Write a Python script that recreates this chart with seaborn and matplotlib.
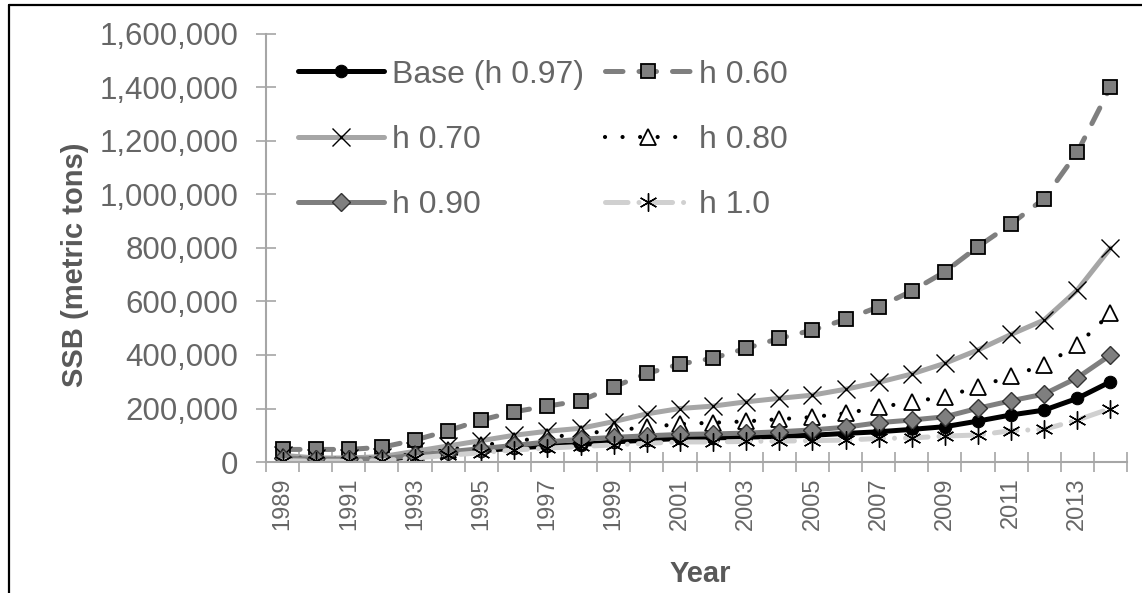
import matplotlib
matplotlib.use("Agg")
import matplotlib.pyplot as plt
from matplotlib.lines import Line2D
from matplotlib.ticker import FuncFormatter, MultipleLocator, FixedLocator
from matplotlib import font_manager
import seaborn as sns

# Spawning stock biomass (metric tons) under alternative steepness values
years = list(range(1989, 2015))
year_labels = [str(y) for y in range(1989, 2014, 2)]

base_h097 = [12000, 8000, 8000, 10000, 20000, 32000, 42000, 52000, 60000, 65000,
             75000, 82000, 88000, 90000, 93000, 96000, 100000, 107000, 113000, 122000,
             132000, 153000, 176000, 194000, 238000, 300000]
h060 = [47000, 47000, 47000, 55000, 82000, 117000, 157000, 188000, 209000, 229000,
        281000, 331000, 366000, 388000, 425000, 462000, 493000, 533000, 580000, 639000,
        711000, 805000, 890000, 985000, 1158000, 1402000]
h070 = [25000, 15000, 15000, 20000, 40000, 60000, 80000, 100000, 115000, 126000,
        151000, 180000, 200000, 209000, 225000, 238000, 250000, 272000, 298000, 329000,
        369000, 419000, 477000, 531000, 643000, 800000]
h080 = [20000, 12000, 12000, 15000, 30000, 45000, 62000, 78000, 92000, 105000,
        118000, 130000, 142000, 147000, 152000, 160000, 168000, 182000, 204000, 225000,
        244000, 281000, 321000, 363000, 437000, 556000]
h090 = [15000, 10000, 10000, 12000, 25000, 38000, 50000, 62000, 75000, 85000,
        92000, 98000, 103000, 105000, 108000, 113000, 120000, 130000, 147000, 157000,
        169000, 201000, 229000, 254000, 315000, 400000]
h100 = [5000, 3000, 3000, 5000, 15000, 25000, 35000, 45000, 52000, 58000,
        64000, 70000, 75000, 75000, 77000, 78000, 80000, 82000, 88000, 90000,
        97000, 101000, 117000, 122000, 157000, 200000]

sns.set_theme(style="white")
plt.rcParams["font.family"] = ["Liberation Sans", "DejaVu Sans"]

# narrow face for the rotated year labels, if present
installed = {f.name for f in font_manager.fontManager.ttflist}
if "Liberation Sans Narrow" in installed:
    narrow, year_size = "Liberation Sans Narrow", 20
else:
    narrow, year_size = "Liberation Sans", 17

fig = plt.figure(figsize=(11.42, 5.93), dpi=100)
ax = fig.add_axes([0.2329, 0.2209, 0.754, 0.7218])

LW = 3.6
series = [
    dict(y=base_h097, label="Base (h 0.97)", color="black", linestyle="-",
         marker="o", markersize=9, markerfacecolor="black", markeredgecolor="black"),
    dict(y=h060, label="h 0.60", color="#7f7f7f", linestyle=(0, (3.5, 3.2)),
         marker="s", markersize=10.5, markerfacecolor="#7f7f7f", markeredgecolor="black",
         markeredgewidth=1.3),
    dict(y=h070, label="h 0.70", color="#a6a6a6", linestyle="-",
         marker="x", markersize=13, markerfacecolor="black", markeredgecolor="black",
         markeredgewidth=1.0),
    dict(y=h080, label="h 0.80", color="black", linestyle=(0, (0.01, 4.2)),
         marker="^", markersize=11.5, markerfacecolor="white", markeredgecolor="black",
         markeredgewidth=1.3, lw=3.0),
    dict(y=h090, label="h 0.90", color="#7f7f7f", linestyle="-",
         marker="D", markersize=9.5, markerfacecolor="#7f7f7f", markeredgecolor="#333333",
         markeredgewidth=1.0),
    dict(y=h100, label="h 1.0", color="#d0d0d0", linestyle=(0, (4.5, 2.2, 0.01, 2.2)),
         marker=(6, 2, 0), markersize=13, markerfacecolor="black", markeredgecolor="black",
         markeredgewidth=1.0),
]

handles = {}
for s in series:
    lw = s.pop("lw", LW)
    yv = s.pop("y")
    sns.lineplot(x=years, y=yv, ax=ax, lw=lw, solid_capstyle="round",
                 dash_capstyle="round", **s)
    handles[s["label"]] = ax.lines[-1]

ax.set_xlim(1988.5, 2014.5)
ax.set_ylim(0, 1600000)

axis_grey = "#a6a6a6"
text_grey = "#666666"

ax.yaxis.set_major_locator(MultipleLocator(200000))
ax.yaxis.set_major_formatter(FuncFormatter(lambda v, p: f"{int(v):,}"))
ax.set_xticks([int(y) for y in year_labels], year_labels, rotation=90,
              fontsize=year_size, fontfamily=narrow, color=text_grey)
ax.xaxis.set_minor_locator(FixedLocator([y + 0.5 for y in range(1988, 2015)]))

for side in ["top", "right"]:
    ax.spines[side].set_visible(False)
for side in ["left", "bottom"]:
    ax.spines[side].set_color(axis_grey)
    ax.spines[side].set_linewidth(1.5)

ax.tick_params(axis="y", which="major", direction="inout", length=14, width=1.2,
               color=axis_grey, labelsize=22.5, labelcolor=text_grey, pad=13, left=True)
ax.tick_params(axis="x", which="major", length=0, pad=11, bottom=True)
ax.tick_params(axis="x", which="minor", direction="inout", length=14, width=1.2,
               color=axis_grey, bottom=True)

ax.set_ylabel("SSB (metric tons)", fontsize=21, fontweight="bold", color="#595959",
              ha="center", va="center")
ax.yaxis.set_label_coords(-0.222, 0.46)
ax.set_xlabel("Year", fontsize=21, fontweight="bold", color="#595959",
              ha="center", va="center")
ax.xaxis.set_label_coords(0.504, -0.262)

order = ["Base (h 0.97)", "h 0.70", "h 0.90", "h 0.60", "h 0.80", "h 1.0"]
leg = ax.legend([handles[k] for k in order], order, ncol=2, loc="upper left",
                bbox_to_anchor=(0.037, 0.94), frameon=False, fontsize=23,
                handlelength=2.7, handletextpad=0.25, columnspacing=0.65,
                labelspacing=1.1, borderpad=0, borderaxespad=0)
for t in leg.get_texts():
    t.set_color(text_grey)

# frame edge along the left and top of the figure
fig.add_artist(Line2D([9 / 1142, 9 / 1142], [0, 1 - 5 / 593], transform=fig.transFigure,
                      color="black", lw=1.6))
fig.add_artist(Line2D([9 / 1142, 1], [1 - 5 / 593, 1 - 5 / 593], transform=fig.transFigure,
                      color="black", lw=1.6))

fig.savefig("out.png", dpi=100)
